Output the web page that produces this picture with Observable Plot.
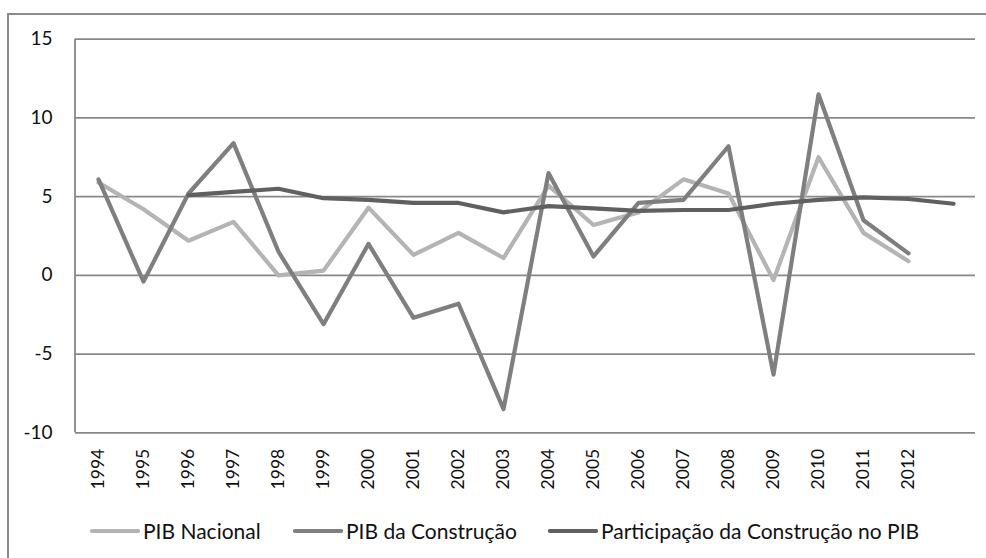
<!DOCTYPE html>
<html>
<head>
<meta charset="utf-8">
<script src="https://cdn.jsdelivr.net/npm/d3@7"></script>
<script src="https://cdn.jsdelivr.net/npm/@observablehq/plot@0.6"></script>
<style>
  html, body { margin: 0; padding: 0; background: #fff; width: 986px; height: 558px; overflow: hidden; position: relative; }
  #frame { position: absolute; left: 7px; top: 13px; width: 1100px; height: 700px; border: 2px solid #8a8a8a; box-sizing: border-box; }
  #chart { position: absolute; left: 0; top: 0; }
  .leg { position: absolute; top: 518px; font-family: Lato, "Open Sans", sans-serif; font-size: 21px; color: #111; display: flex; align-items: center; white-space: nowrap; }
  .leg svg { margin-right: 3px; }
</style>
</head>
<body>
<div id="frame"></div>
<div id="chart"></div>
<script>
const years = ["1994","1995","1996","1997","1998","1999","2000","2001","2002","2003","2004","2005","2006","2007","2008","2009","2010","2011","2012","2013"];
const yTicks = [-10, -5, 0, 5, 10, 15];
const seriesNames = ["PIB Nacional", "PIB da Construção", "Participação da Construção no PIB"];
const seriesColors = ["#b4b4b4", "#7f7f7f", "#606060"];
// 1994–2012
const pibNacional = [5.9, 4.2, 2.2, 3.4, 0.0, 0.3, 4.3, 1.3, 2.7, 1.1, 5.7, 3.2, 4.0, 6.1, 5.2, -0.3, 7.5, 2.7, 0.9];
// 1994–2012
const pibConstrucao = [6.1, -0.4, 5.2, 8.4, 1.5, -3.1, 2.0, -2.7, -1.8, -8.5, 6.5, 1.2, 4.6, 4.8, 8.2, -6.3, 11.5, 3.5, 1.4];
// 1996–2013
const participacao = [5.1, 5.3, 5.5, 4.9, 4.8, 4.6, 4.6, 4.0, 4.4, 4.25, 4.1, 4.15, 4.15, 4.55, 4.8, 4.95, 4.85, 4.55];

const toRows = (vals, startYear, name) => vals.map((v, i) => ({year: String(startYear + i), value: v, series: name}));
const rows = [
  toRows(pibNacional, 1994, seriesNames[0]),
  toRows(pibConstrucao, 1994, seriesNames[1]),
  toRows(participacao, 1996, seriesNames[2])
];

// left axis line drawn from the plot's own scales and dimensions
const leftAxisLine = (index, scales, values, dimensions) =>
  d3.create("svg:line")
    .attr("x1", dimensions.marginLeft).attr("x2", dimensions.marginLeft)
    .attr("y1", scales.y(d3.max(yTicks))).attr("y2", scales.y(d3.min(yTicks)))
    .attr("stroke", "#888").attr("stroke-width", 1.8)
    .node();

const H = 505;
const chart = Plot.plot({
  width: 986,
  height: H,
  marginLeft: 75,
  marginRight: 11,
  marginTop: 38.7,
  marginBottom: H - 432.3,
  style: { fontFamily: "Lato, 'Open Sans', sans-serif", background: "transparent", color: "#111" },
  x: { type: "point", domain: years, padding: 0.5, label: null },
  y: { domain: [-10, 15], label: null },
  marks: [
    Plot.gridY(yTicks, { stroke: "#888", strokeOpacity: 1, strokeWidth: 1.8 }),
    leftAxisLine,
    Plot.axisY(yTicks, { tickSize: 0, tickPadding: 23, fontSize: 19, label: null, tickFormat: d => String(d) }),
    Plot.axisX({ tickSize: 0, tickRotate: -90, tickPadding: 16, fontSize: 17.5, label: null,
                 tickFormat: d => (d === years[years.length - 1] ? "" : d) }),
    ...rows.map((r, i) => Plot.line(r, {
      x: "year", y: "value", stroke: seriesColors[i], strokeWidth: 4.2,
      strokeLinejoin: "round", strokeLinecap: "round"
    }))
  ]
});
document.getElementById("chart").appendChild(chart);

const legLefts = [90, 293, 548];
seriesNames.forEach((name, i) => {
  const d = document.createElement("div");
  d.className = "leg";
  d.style.left = legLefts[i] + "px";
  d.innerHTML = `<svg width="50" height="8"><line x1="2" y1="4" x2="48" y2="4" stroke="${seriesColors[i]}" stroke-width="4.2" stroke-linecap="round"/></svg><span></span>`;
  d.querySelector("span").textContent = name;
  document.body.appendChild(d);
});
</script>
</body>
</html>
